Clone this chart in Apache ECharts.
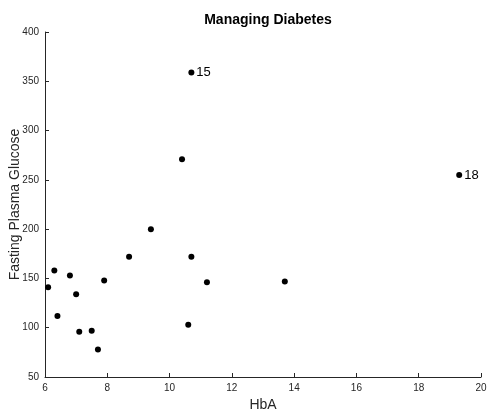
<!DOCTYPE html>
<html>
<head>
<meta charset="utf-8">
<script src="https://cdn.jsdelivr.net/npm/echarts@6/dist/echarts.min.js"></script>
<style>html,body{margin:0;padding:0;background:#fff}#c{width:487px;height:411px}</style>
</head>
<body>
<div id="c"></div>
<script>
const hba = [6.1, 6.3, 6.4, 6.8, 7.0, 7.1, 7.5, 7.7, 7.9, 8.7, 9.4, 10.4, 10.6, 10.7, 10.7, 11.2, 13.7, 19.3];
const glucose = [141, 158, 112, 153, 134, 96, 97, 78, 148, 172, 200, 271, 103, 359, 172, 146, 147, 255];
const pointLabels = ['', '', '', '', '', '', '', '', '', '', '', '', '', '15', '', '', '', '18'];
const xTicks = [6, 8, 10, 12, 14, 16, 18, 20];
const yTicks = [50, 100, 150, 200, 250, 300, 350, 400];

const chart = echarts.init(document.getElementById('c'), null, {renderer: 'canvas'});
const font = 'Helvetica, "Liberation Sans", Arial, sans-serif';
const axisCommon = {
  axisLine: {show: true, lineStyle: {color: '#262626', width: 1}},
  axisTick: {show: true, inside: true, length: 4, lineStyle: {color: '#262626'}},
  axisLabel: {color: '#262626', fontSize: 10, fontFamily: font},
  splitLine: {show: false},
  nameMoveOverlap: false,
  nameTextStyle: {color: '#262626', fontSize: 14, fontFamily: font}
};
chart.setOption({
  animation: false,
  backgroundColor: '#fff',
  title: {
    text: 'Managing Diabetes', left: 263, top: 8, textAlign: 'center',
    textStyle: {fontSize: 14, fontWeight: 'bold', color: '#000', fontFamily: font}
  },
  grid: {left: 45, right: 6, top: 32, bottom: 34, containLabel: false, outerBoundsMode: 'none'},
  xAxis: Object.assign({}, axisCommon, {
    type: 'value', min: xTicks[0], max: xTicks[xTicks.length - 1], interval: 2,
    name: 'HbA', nameLocation: 'middle', nameGap: 21,
    axisLabel: Object.assign({}, axisCommon.axisLabel, {margin: 6})
  }),
  yAxis: Object.assign({}, axisCommon, {
    type: 'value', min: yTicks[0], max: yTicks[yTicks.length - 1], interval: 50,
    name: 'Fasting Plasma Glucose', nameLocation: 'middle', nameGap: 23,
    axisLabel: Object.assign({}, axisCommon.axisLabel, {margin: 6})
  }),
  series: [{
    type: 'scatter',
    symbol: 'circle',
    symbolSize: 6,
    itemStyle: {color: '#000', opacity: 1},
    data: hba.map((x, i) => ({value: [x, glucose[i]], name: pointLabels[i]})),
    label: {
      show: true, position: 'right', distance: 2,
      formatter: p => p.name, color: '#000', fontSize: 13, fontFamily: font
    }
  }]
});
</script>
</body>
</html>
